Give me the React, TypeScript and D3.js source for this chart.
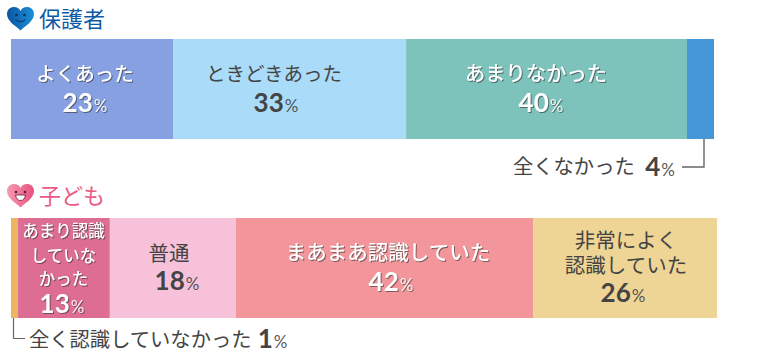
import React from "react";
import * as d3 from "d3";

const parentValues = [23.05, 33.15, 39.95, 3.85];
const parentColors = ["#86a0e2", "#aadcf9", "#7dc3bc", "#4496d6"];
const parentLabels = [["よくあった"], ["ときどきあった"], ["あまりなかった"], []];
const parentPct = ["23", "33", "40", ""];
const parentWhite = [true, false, true, false];

const childValues = [1, 13, 17.85, 42.15, 26];
const childColors = ["#eab662", "#de6d94", "#f6c1d9", "#f2969b", "#eed596"];
const childLabels = [[], ["あまり認識", "していな", "かった"], ["普通"], ["まあまあ認識していた"], ["非常によく", "認識していた"]];
const childPct = ["", "13", "18", "42", "26"];
const childWhite = [false, true, false, true, false];

const FONT = "'Noto Sans CJK JP', sans-serif";
const NUM = "Lato, 'Open Sans', sans-serif";
const INK = "#444444";
const SHADOW = "drop-shadow(1px 1px 0.6px rgba(40,40,40,0.55))";

function stack(values: number[]) {
  let acc = 0;
  return values.map((v) => {
    const s = { x0: acc, x1: acc + v };
    acc += v;
    return s;
  });
}

function Pct({ x, y, num, white, size = 26 }: any) {
  return (
    <text x={x} y={y} textAnchor="middle" fill={white ? "#fff" : INK} style={white ? { filter: SHADOW } : undefined}>
      <tspan fontFamily={NUM} fontWeight={700} fontSize={size}>{num}</tspan>
      <tspan fontFamily={NUM} fontSize={17} dx={1} fillOpacity={0.9}>%</tspan>
    </text>
  );
}

function Bar({ values, colors, labels, pct, white, x0, x1, y, h, labelX, lineY, pctX, pctY, fs }: any) {
  const xs = d3.scaleLinear().domain([0, 100]).range([x0, x1]);
  const st = stack(values);
  return (
    <g>
      {st.map((s, i) => (
        <rect key={i} x={xs(s.x0)} y={y} width={xs(s.x1) - xs(s.x0)} height={h} fill={colors[i]} />
      ))}
      {st.map((s, i) => (
        <g key={i}>
          {labels[i].map((t: string, j: number) => (
            <text key={j} x={labelX[i]} y={lineY[i][j]} textAnchor="middle" fontFamily={FONT} fontSize={fs[i]}
              fontWeight={white[i] ? 500 : 400}
              fill={white[i] ? "#fff" : INK} style={white[i] ? { filter: SHADOW } : undefined}>{t}</text>
          ))}
          {pct[i] && <Pct x={pctX[i]} y={pctY[i]} num={pct[i]} white={white[i]} />}
        </g>
      ))}
    </g>
  );
}

const HEART = "M13.5 23.5 C9 19 0 14.5 0 7 C0 2.5 3.5 0 7 0 C10 0 12.5 1.5 13.5 4 C14.5 1.5 17 0 20 0 C23.5 0 27 2.5 27 7 C27 14.5 18 19 13.5 23.5 Z";

export default function App() {
  return (
    <svg width={760} height={356} style={{ position: "absolute", left: 0, top: 0 }}>
      <defs>
        <linearGradient id="hb" x1="0" y1="0" x2="1" y2="0">
          <stop offset="0" stopColor="#0b55a2" />
          <stop offset="1" stopColor="#1a8fd6" />
        </linearGradient>
        <linearGradient id="hp" x1="0" y1="0" x2="1" y2="0">
          <stop offset="0" stopColor="#f59ab2" />
          <stop offset="1" stopColor="#ea4f7e" />
        </linearGradient>
      </defs>

      <g transform="translate(7,7)">
        <path d={HEART} fill="url(#hb)" />
        <circle cx={9.5} cy={8} r={1.3} fill="#0a2f60" />
        <circle cx={17.5} cy={8} r={1.3} fill="#0a2f60" />
        <path d="M8.5 12.5 Q13.5 17 18.5 12.5" fill="none" stroke="#0a2f60" strokeWidth={1} />
      </g>
      <text x={39} y={27} fontFamily={FONT} fontSize={22} fill="#0f5aa6">保護者</text>

      <Bar values={parentValues} colors={parentColors} labels={parentLabels} pct={parentPct} white={parentWhite}
        x0={11} x1={714} y={39} h={100}
        labelX={[85, 274, 536, 0]} lineY={[[81], [81], [81], []]}
        pctX={[85, 276, 541, 0]} pctY={[112, 112, 112, 0]}
        fs={[19.5, 19.5, 20.3, 19]} />

      <path d="M704 139 V167 H682" fill="none" stroke="#666" strokeWidth={1.4} />
      <text x={513} y={174} fontFamily={FONT} fontSize={20.3} fill={INK}>全くなかった</text>
      <Pct x={660} y={176} num="4" white={false} />

      <g transform="translate(7,184)">
        <path d={HEART} fill="url(#hp)" />
        <circle cx={9} cy={8} r={1.3} fill="#5a2030" />
        <circle cx={18} cy={8} r={1.3} fill="#5a2030" />
        <path d="M8.5 11 H18.5 Q17.5 16.5 13.5 16.5 Q9.5 16.5 8.5 11 Z" fill="#fff" stroke="#5a2030" strokeWidth={0.8} />
      </g>
      <text x={39} y={204} fontFamily={FONT} fontSize={22} fill="#ea5a86">子ども</text>

      <Bar values={childValues} colors={childColors} labels={childLabels} pct={childPct} white={childWhite}
        x0={11} x1={717} y={218} h={100}
        labelX={[0, 63.5, 169, 388, 626]}
        lineY={[[], [237, 262, 285], [261], [260], [248, 273]]}
        pctX={[0, 62, 177, 391, 623]} pctY={[0, 313, 290, 291, 302]}
        fs={[18, 16.5, 20.5, 20.5, 20.5]} />

      <path d="M13.5 318 V338.5 H25" fill="none" stroke="#666" strokeWidth={1.2} />
      <text x={29} y={347} fontFamily={FONT} fontSize={20.3} fill={INK}>全く認識していなかった</text>
      <Pct x={272.5} y={348} num="1" white={false} />
    </svg>
  );
}
